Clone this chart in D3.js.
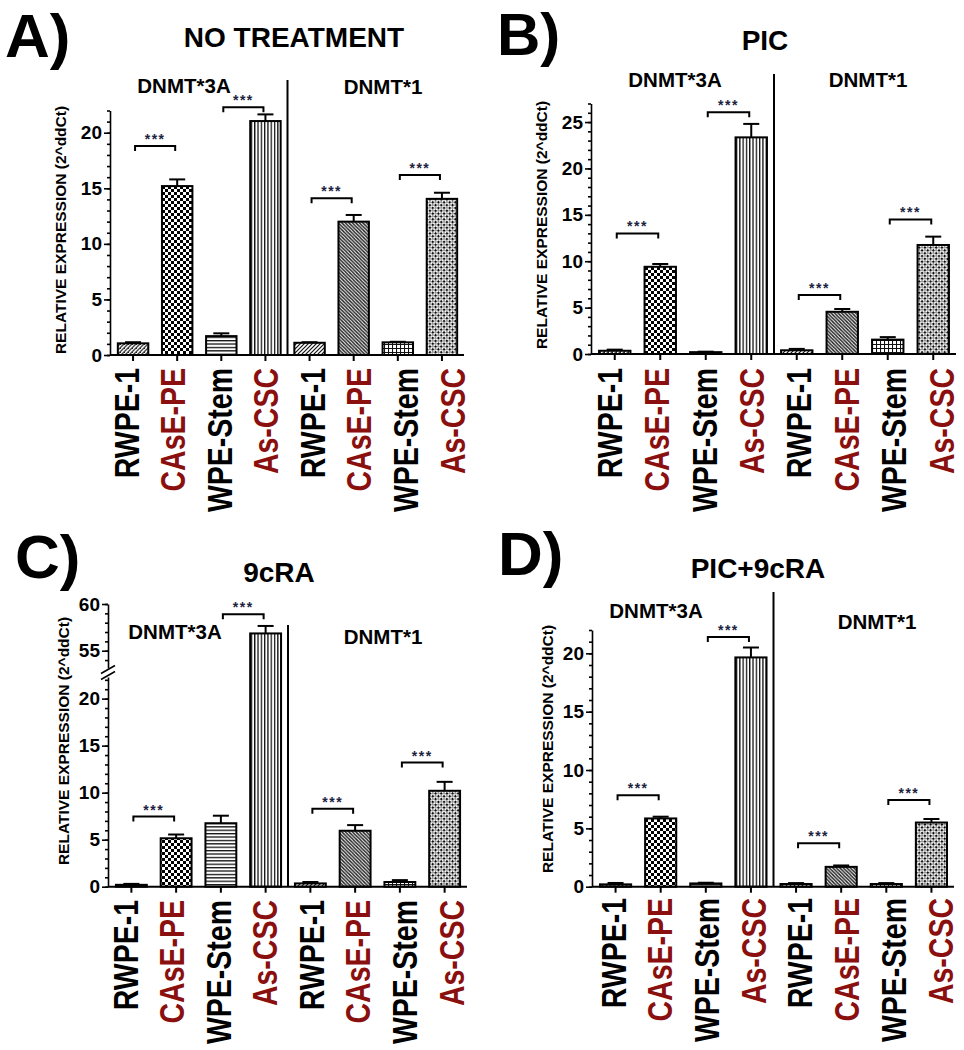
<!DOCTYPE html>
<html><head><meta charset="utf-8">
<script src="https://cdn.jsdelivr.net/npm/d3@7"></script>
<style>body{margin:0;background:#fff;} text{font-family:"Liberation Sans",Arial,sans-serif;font-weight:bold;}</style>
</head><body>
<script>
// ---------- DATA ----------
const categories = ["RWPE-1","CAsE-PE","WPE-Stem","As-CSC"];
const genes = ["DNMT*3A","DNMT*1"];
const catColors = ["#000","#8a0f0f","#000","#8a0f0f"];
const panelLetters = ["A)","B)","C)","D)"];
const panelTitles = ["NO TREATMENT","PIC","9cRA","PIC+9cRA"];
const yLabel = "RELATIVE EXPRESSION (2^ddCt)";
// values: DNMT*3A (4 cells) then DNMT*1 (4 cells)
const valuesA = [1.05,15.2,1.7,21.05, 1.1,12.0,1.14,14.05];
const errorsA = [0.1,0.6,0.25,0.6, 0.05,0.6,0.05,0.55];
const sigA    = [18.8,22.3,14.1,16.2];
const valuesB = [0.35,9.4,0.2,23.35, 0.4,4.55,1.55,11.75];
const errorsB = [0.12,0.3,0.05,1.45, 0.15,0.3,0.27,0.9];
const sigB    = [13.0,26.05,6.36,14.5];
const valuesC = [0.2,5.15,6.75,56.85, 0.35,5.95,0.5,10.2];
const errorsC = [0.1,0.4,0.8,0.8, 0.15,0.6,0.2,0.95];
const sigC    = [7.46,58.9,8.3,13.2];
const valuesD = [0.2,5.85,0.28,19.65, 0.23,1.7,0.23,5.5];
const errorsD = [0.12,0.15,0.06,0.85, 0.08,0.12,0.08,0.3];
const sigD    = [7.83,21.4,3.72,7.43];
const ticksA = [0,5,10,15,20];
const ticksB = [0,5,10,15,20,25];
const ticksCLow = [0,5,10,15,20];
const ticksCHigh = [55,60];
const ticksD = [0,5,10,15,20];

// ---------- DRAW ----------
const svg = d3.select("body").append("svg").attr("width",964).attr("height",1050);
svg.append("rect").attr("width",964).attr("height",1050).attr("fill","#fff");
const defs = svg.append("defs");
function pat(id,w,h,draw,tr){
  const p = defs.append("pattern").attr("id",id).attr("patternUnits","userSpaceOnUse").attr("width",w).attr("height",h);
  if(tr) p.attr("patternTransform",tr);
  p.append("rect").attr("width",w).attr("height",h).attr("fill","#fff");
  draw(p);
}
pat("p0",4,4,p=>{p.append("path").attr("d","M0,4L4,0M-1,1L1,-1M3,5L5,3").attr("stroke","#444").attr("stroke-width",1.4);
  p.append("rect").attr("x",0).attr("y",0).attr("width",1).attr("height",1).attr("fill","#222");});
pat("p1",6,6,p=>{p.append("rect").attr("width",3).attr("height",3).attr("fill","#000");
  p.append("rect").attr("x",3).attr("y",3).attr("width",3).attr("height",3).attr("fill","#000");});
pat("p2",4,3.4,p=>{p.append("rect").attr("y",0).attr("width",4).attr("height",1.3).attr("fill","#111");});
pat("p3",3.3,4,p=>{p.append("rect").attr("x",0).attr("width",1.3).attr("height",4).attr("fill","#111");});
pat("p4",4,4,p=>{p.append("path").attr("d","M0,4L4,0M-1,1L1,-1M3,5L5,3").attr("stroke","#111").attr("stroke-width",1.2);});
pat("p5",3.5,3.5,p=>{p.append("path").attr("d","M0,0L3.5,3.5M-1,2.5L1,4.5M2.5,-1L4.5,1").attr("stroke","#222").attr("stroke-width",1.4);});
pat("p6",4,4,p=>{p.append("path").attr("d","M0,0.5H4M0.5,0V4").attr("stroke","#111").attr("stroke-width",1.1);});
pat("p7",4,4,p=>{p.append("rect").attr("width",2.2).attr("height",2.2).attr("fill","#111");
  p.append("rect").attr("x",2.2).attr("y",2.2).attr("width",1.5).attr("height",1.5).attr("fill","#444");},"rotate(45)");
const patIds = ["p0","p1","p2","p3","p4","p5","p6","p7"];

const layouts = [
 {values:valuesA,errors:errorsA,sig:sigA,ticks:ticksA,yDomain:[0,22],yRange:[355,110.5],axisX:110,xRange:[111,464],
  labelRange:[126,452],labelTop:368,divider:[80,356],letterPos:[5,57],letterSize:62,titlePos:[294,47],genePos:[[184,93],[383,94]],yLabelPos:[66,230]},
 {values:valuesB,errors:errorsB,sig:sigB,ticks:ticksB,yDomain:[0,27],yRange:[354,103.5],axisX:591,xRange:[592,956],
  labelRange:[609.5,941],labelTop:368,divider:[74,354],letterPos:[497,55],letterSize:60,titlePos:[765,50],genePos:[[675,87],[868,87]],yLabelPos:[547,225]},
 {values:valuesC,errors:errorsC,sig:sigC,ticks:ticksCLow,yDomain:[0,22.3],yRange:[886.7,677],axisX:108,xRange:[109,467],
  highTicks:ticksCHigh,highDomain:[53.15,60],highRange:[668,604],
  labelRange:[125,451],labelTop:900,divider:[625,887],letterPos:[15,578],letterSize:62,titlePos:[279,582],genePos:[[175,639],[383,644]],yLabelPos:[69,741]},
 {values:valuesD,errors:errorsD,sig:sigD,ticks:ticksD,yDomain:[0,22],yRange:[886.7,630],axisX:592,xRange:[593,954],
  labelRange:[613,940],labelTop:898,divider:[592,887],letterPos:[498,575],letterSize:62,titlePos:[758,578],genePos:[[656,618],[877,629]],yLabelPos:[553,749]}
];

const idx = d3.range(8);
layouts.forEach((L,pi)=>{
  const g = svg.append("g");
  const yLow = d3.scaleLinear().domain(L.yDomain).range(L.yRange);
  let yHigh = null;
  if(L.highDomain) yHigh = d3.scaleLinear().domain(L.highDomain).range(L.highRange);
  const y = v => (yHigh && v > L.yDomain[1]) ? yHigh(v) : yLow(v);
  const x = d3.scaleBand().domain(idx).range(L.xRange).paddingInner(0.31).paddingOuter(0.155);
  const xc = i => x(i) + x.bandwidth()/2;
  const xl = d3.scalePoint().domain(idx).range(L.labelRange);

  // letter, title, genes
  g.append("text").attr("x",L.letterPos[0]).attr("y",L.letterPos[1]).attr("font-size",L.letterSize).text(panelLetters[pi]);
  g.append("text").attr("x",L.titlePos[0]).attr("y",L.titlePos[1]).attr("font-size",28).attr("text-anchor","middle").text(panelTitles[pi]);
  genes.forEach((gn,k)=>g.append("text").attr("x",L.genePos[k][0]).attr("y",L.genePos[k][1]).attr("font-size",20.5).attr("text-anchor","middle").text(gn));
  // y label
  g.append("text").attr("transform",`translate(${L.yLabelPos[0]},${L.yLabelPos[1]}) rotate(-90)`).attr("text-anchor","middle")
    .attr("font-size",15.5).text(yLabel);

  // bars
  g.selectAll("rect.bar").data(idx).join("rect").attr("class","bar")
    .attr("x",i=>x(i)).attr("width",x.bandwidth())
    .attr("y",i=>y(L.values[i])).attr("height",i=>yLow(0)-y(L.values[i]))
    .attr("fill",i=>`url(#${patIds[i]})`).attr("stroke","#000").attr("stroke-width",2);
  // error bars
  const eb = g.selectAll("g.eb").data(idx).join("g").attr("class","eb").attr("stroke","#000").attr("stroke-width",2);
  eb.append("line").attr("x1",xc).attr("x2",xc).attr("y1",i=>y(L.values[i])).attr("y2",i=>y(L.values[i]+L.errors[i]));
  eb.append("line").attr("x1",i=>xc(i)-8).attr("x2",i=>xc(i)+8).attr("y1",i=>y(L.values[i]+L.errors[i])).attr("y2",i=>y(L.values[i]+L.errors[i]));

  // significance brackets
  L.sig.forEach((s,k)=>{
    const a = xc(2*k)+2, b = xc(2*k+1)-2, yy = y(s);
    g.append("path").attr("d",`M${a},${yy+5}V${yy}H${b}V${yy+5}`).attr("fill","none").attr("stroke","#000").attr("stroke-width",2);
    g.append("text").attr("x",(a+b)/2).attr("y",yy-2).attr("text-anchor","middle").attr("font-size",14)
      .attr("letter-spacing",1.5).attr("fill","#1c2340").text("***");
  });

  // y axis
  function drawY(scale, ticks, minor){
    const ax = g.append("g").attr("transform",`translate(${L.axisX},0)`);
    ax.call(d3.axisLeft(scale).tickValues(minor).tickSize(3).tickSizeOuter(0).tickFormat(""));
    ax.selectAll("path,line").attr("stroke","#000").attr("stroke-width",1.6);
    const ax2 = g.append("g").attr("transform",`translate(${L.axisX},0)`);
    ax2.call(d3.axisLeft(scale).tickValues(ticks).tickSize(6).tickSizeOuter(0).tickPadding(2).tickFormat(d3.format("d")));
    ax2.select(".domain").remove();
    ax2.selectAll("line").attr("stroke","#000").attr("stroke-width",1.6);
    ax2.selectAll("text").attr("font-size",19).attr("font-family","Liberation Sans, Arial").attr("font-weight","bold").attr("fill","#000");
  }
  drawY(yLow, L.ticks, d3.range(L.yDomain[0], Math.floor(L.yDomain[1])+1));
  if(yHigh){
    drawY(yHigh, L.highTicks, d3.range(Math.ceil(L.highDomain[0]), L.highDomain[1]+1));
    const bx = L.axisX, by = (L.highRange[0]+L.yRange[1])/2;
    [-3,3].forEach(o=>g.append("line").attr("x1",bx-7).attr("x2",bx+7).attr("y1",by+o+4).attr("y2",by+o-4)
      .attr("stroke","#000").attr("stroke-width",1.6));
  }
  // x axis
  const xa = g.append("g").attr("transform",`translate(0,${yLow(0)})`)
    .call(d3.axisBottom(x).tickSize(6).tickSizeOuter(0).tickFormat(""));
  xa.select(".domain").attr("d",`M${L.axisX},0H${L.xRange[1]}`);
  xa.selectAll("path,line").attr("stroke","#000").attr("stroke-width",2);

  // divider
  const dx = (x(3)+x.bandwidth()+x(4))/2;
  g.append("line").attr("x1",dx).attr("x2",dx).attr("y1",L.divider[0]).attr("y2",L.divider[1]).attr("stroke","#000").attr("stroke-width",2);

  // category labels
  g.selectAll("text.cat").data(idx).join("text").attr("class","cat")
    .attr("transform",i=>`translate(${xl(i)},${L.labelTop}) rotate(-90) scale(1,1.25)`)
    .attr("text-anchor","end").attr("y",10).attr("font-size",28.5)
    .attr("fill",i=>catColors[i%4]).text(i=>categories[i%4]);
});
</script>
</body></html>
